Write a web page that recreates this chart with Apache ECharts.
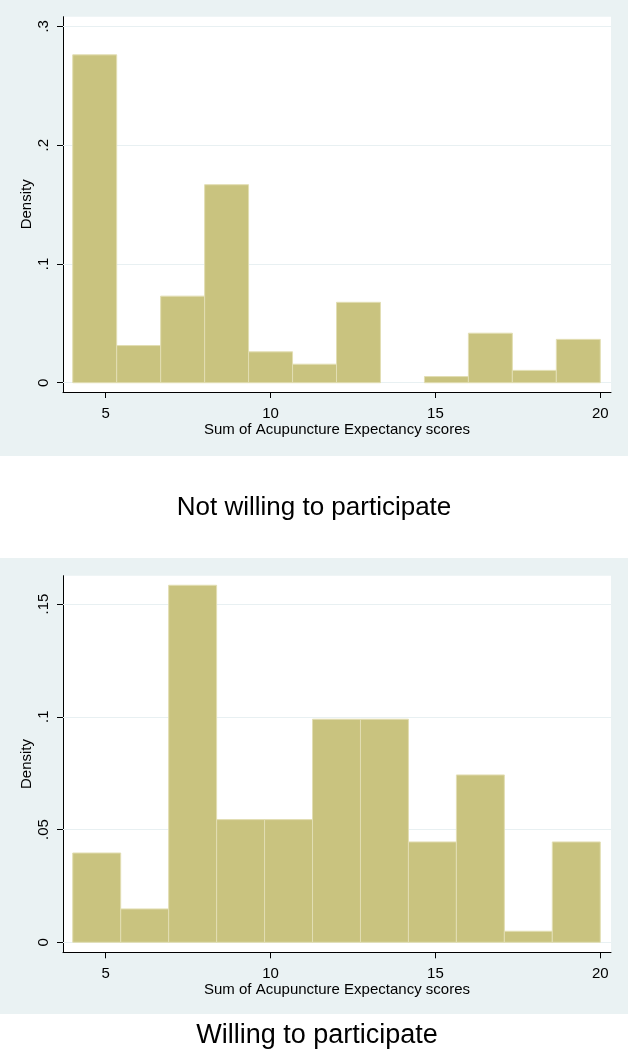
<!DOCTYPE html>
<html>
<head>
<meta charset="utf-8">
<script src="https://cdn.jsdelivr.net/npm/echarts@6/dist/echarts.min.js"></script>
<style>
  html, body { margin: 0; padding: 0; background: #ffffff; }
  #chart { width: 628px; height: 1050px; }
</style>
</head>
<body>
<div id="chart"></div>
<script>
// ---- Data ----
const xTicks = [5, 10, 15, 20];
const xAxisTitle = 'Sum of Acupuncture Expectancy scores';
const yAxisTitle = 'Density';

const topTitle = 'Not willing to participate';
const topBinEdges = [4, 5.333, 6.667, 8, 9.333, 10.667, 12, 13.333, 14.667, 16, 17.333, 18.667, 20];
const topDensity = [0.276, 0.0313, 0.0729, 0.1667, 0.026, 0.0156, 0.0677, 0, 0.0052, 0.0417, 0.0104, 0.0365];
const topYTicks = [0, 0.1, 0.2, 0.3];

const bottomTitle = 'Willing to participate';
const bottomBinEdges = [4, 5.455, 6.909, 8.364, 9.818, 11.273, 12.727, 14.182, 15.636, 17.091, 18.545, 20];
const bottomDensity = [0.0396, 0.0148, 0.1583, 0.0544, 0.0544, 0.0989, 0.0989, 0.0445, 0.0742, 0.0049, 0.0445];
const bottomYTicks = [0, 0.05, 0.1, 0.15];

// ---- Styles ----
const FONT = 'Liberation Sans, Arial, sans-serif';
const PANEL_BG = '#eaf2f3';
const BAR_FILL = '#c9c37f';
const BAR_EDGE = '#e2deb3';
const GRID_LINE = '#e8f0f2';

function toBins(edges, dens) {
  return dens.map((d, i) => [edges[i], edges[i + 1], d]);
}
function stataFmt(v) {
  if (v === 0) return '0';
  return String(v).replace(/^0/, '');
}
function renderBin(params, api) {
  const h = api.value(2);
  if (!h) return null;
  const p0 = api.coord([api.value(0), h]);
  const p1 = api.coord([api.value(1), 0]);
  return {
    type: 'rect',
    shape: { x: p0[0], y: p0[1], width: p1[0] - p0[0], height: p1[1] - p0[1] },
    style: { fill: BAR_FILL, stroke: BAR_EDGE, lineWidth: 1 }
  };
}

function xAxisFor(gridIndex) {
  return {
    type: 'value', gridIndex: gridIndex, min: 3.705, max: 20.325,
    name: xAxisTitle, nameLocation: 'middle', nameGap: 30,
    nameTextStyle: { fontFamily: FONT, fontSize: 15, color: '#000' },
    axisLine: { show: true, onZero: false, lineStyle: { color: '#000', width: 1 } },
    axisTick: { show: true, length: 6, customValues: xTicks, lineStyle: { color: '#000' } },
    axisLabel: { customValues: xTicks, margin: 14, fontFamily: FONT, fontSize: 15, color: '#000' },
    splitLine: { show: false }
  };
}
function yAxisFor(gridIndex, min, max, ticks) {
  return {
    type: 'value', gridIndex: gridIndex, min: min, max: max,
    name: yAxisTitle, nameLocation: 'middle', nameGap: 29, nameMoveOverlap: false,
    nameTextStyle: { fontFamily: FONT, fontSize: 15, color: '#000' },
    axisLine: { show: true, onZero: false, lineStyle: { color: '#000', width: 1 } },
    axisTick: { show: true, length: 6, customValues: ticks, lineStyle: { color: '#000' } },
    axisLabel: { customValues: ticks, rotate: 90, margin: 12, fontFamily: FONT, fontSize: 15, color: '#000', formatter: stataFmt },
    splitLine: { show: false }
  };
}
function gridLines(xi, yi, ticks) {
  return {
    type: 'line', xAxisIndex: xi, yAxisIndex: yi, data: [], z: 1, silent: true,
    markLine: {
      z: 1, silent: true, symbol: ['none', 'none'], label: { show: false },
      lineStyle: { color: GRID_LINE, width: 1, type: 'solid' },
      emphasis: { disabled: true },
      data: ticks.map(t => ({ yAxis: t }))
    }
  };
}

const chart = echarts.init(document.getElementById('chart'), null, { renderer: 'canvas' });
chart.setOption({
  animation: false,
  backgroundColor: '#ffffff',
  graphic: [
    { type: 'rect', z: -100, shape: { x: 0, y: 0, width: 628, height: 456 }, style: { fill: PANEL_BG } },
    { type: 'rect', z: -100, shape: { x: 0, y: 558, width: 628, height: 456 }, style: { fill: PANEL_BG } },
    { type: 'text', x: 314, y: 508, style: { text: topTitle, font: '26px ' + FONT, fill: '#000', align: 'center', verticalAlign: 'middle' } },
    { type: 'text', x: 317, y: 1036, style: { text: bottomTitle, font: '27px ' + FONT, fill: '#000', align: 'center', verticalAlign: 'middle' } }
  ],
  grid: [
    { left: 63, right: 17, top: 16.7, height: 375.3, show: true, backgroundColor: '#ffffff', borderWidth: 0, containLabel: false },
    { left: 63, right: 17, top: 575.7, height: 376.6, show: true, backgroundColor: '#ffffff', borderWidth: 0, containLabel: false }
  ],
  xAxis: [xAxisFor(0), xAxisFor(1)],
  yAxis: [
    yAxisFor(0, -0.0078, 0.3081, topYTicks),
    yAxisFor(1, -0.00443, 0.16254, bottomYTicks)
  ],
  series: [
    gridLines(0, 0, topYTicks),
    gridLines(1, 1, bottomYTicks),
    { type: 'custom', xAxisIndex: 0, yAxisIndex: 0, z: 3, renderItem: renderBin,
      encode: { x: [0, 1], y: 2 }, data: toBins(topBinEdges, topDensity) },
    { type: 'custom', xAxisIndex: 1, yAxisIndex: 1, z: 3, renderItem: renderBin,
      encode: { x: [0, 1], y: 2 }, data: toBins(bottomBinEdges, bottomDensity) }
  ]
});
</script>
</body>
</html>
